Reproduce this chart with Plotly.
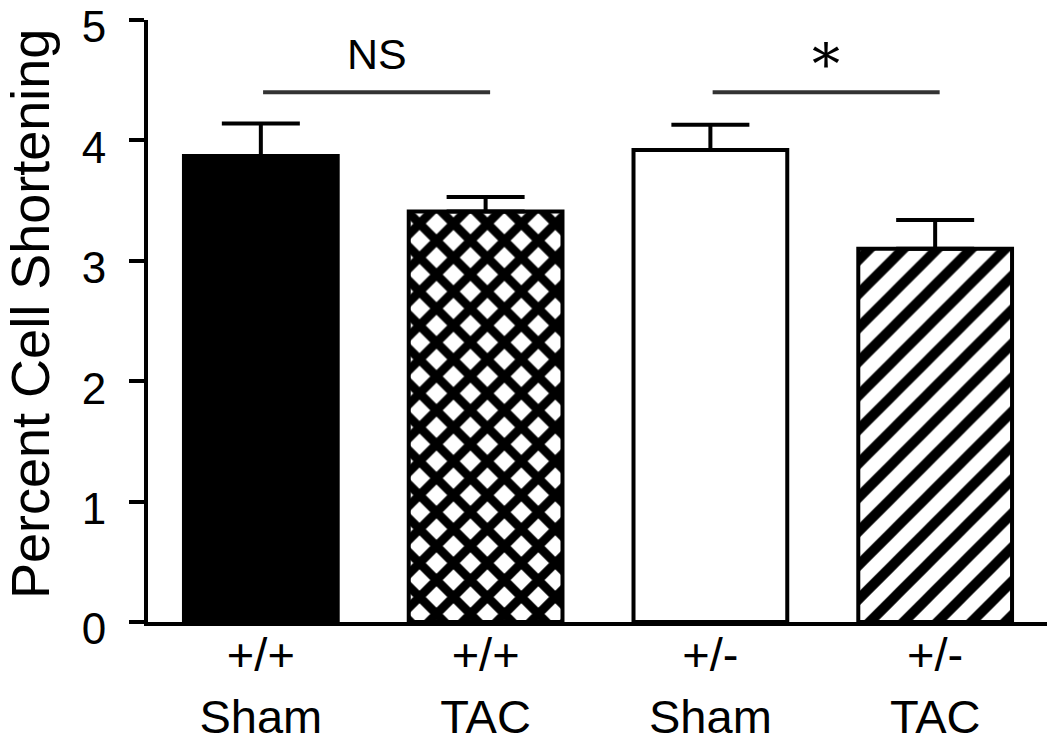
import plotly.graph_objects as go

# data
groups = ["+/+<br>Sham", "+/+<br>TAC", "+/-<br>Sham", "+/-<br>TAC"]
means = [3.87, 3.41, 3.92, 3.10]
sem = [0.27, 0.12, 0.21, 0.24]
fills = ["black", "white", "white", "white"]
patterns = ["", "x", "", "/"]

# significance brackets: (label, first bar, second bar)
comparisons = [("NS", 0, 1), ("*", 2, 3)]
bracket_y = 4.40
label_y = 4.72

FONT = "Liberation Sans"
xpos = list(range(len(groups)))

fig = go.Figure()
for i in xpos:
    pat = None
    if patterns[i]:
        pat = dict(shape=patterns[i], fgcolor="black", fgopacity=1,
                   bgcolor="white", size=24, fillmode="replace",
                   solidity=0.6 if patterns[i] == "x" else 0.42)
    fig.add_trace(go.Bar(
        x=[i], y=[means[i]], width=0.684,
        marker=dict(color=fills[i], line=dict(color="black", width=4),
                    pattern=pat),
        error_y=dict(type="data", array=[sem[i]], arrayminus=[0],
                     symmetric=False, color="black", thickness=4, width=39),
        showlegend=False,
    ))

shapes = []
annotations = []
for text, a, b in comparisons:
    x0, x1 = a + 0.01, b + 0.02
    shapes.append(dict(type="line", xref="x", yref="y", x0=x0, x1=x1,
                       y0=bracket_y, y1=bracket_y,
                       line=dict(color="#333333", width=4)))
    big = text == "*"
    annotations.append(dict(x=(x0 + x1) / 2, y=label_y - (0.09 if big else 0),
                            xref="x", yref="y", text=text, showarrow=False,
                            font=dict(family="DejaVu Serif" if big else FONT,
                                      size=56 if big else 43, color="black")))

# y axis title
annotations.append(dict(x=(30 - 148) / 900, y=(622 - 314) / 602, xref="paper", yref="paper",
                        text="Percent Cell Shortening", textangle=-90,
                        showarrow=False, xanchor="center", yanchor="middle",
                        font=dict(family=FONT, size=54, color="black")))

# the page body adds an 8px margin, so the figure is 8px smaller than the window
fig.update_layout(
    width=1047, height=735,
    margin=dict(l=140, r=7, t=12, b=121, autoexpand=False),
    plot_bgcolor="white", paper_bgcolor="white",
    barmode="overlay",
    font=dict(family=FONT, color="black"),
    shapes=shapes, annotations=annotations,
)
fig.update_xaxes(range=[-0.502, 3.502], tickvals=xpos, ticktext=groups,
                 showline=True, linecolor="black", linewidth=4,
                 ticks="", showgrid=False, zeroline=False, automargin=False,
                 tickfont=dict(size=47, family=FONT), ticklabelstandoff=-11)
fig.update_yaxes(range=[0, 5.0005], tickvals=[0, 1, 2, 3, 4, 5], showline=True,
                 linecolor="black", automargin=False, ticklabeloverflow="allow",
                 linewidth=4, ticks="outside", ticklen=15, tickwidth=4,
                 tickcolor="black", showgrid=False, zeroline=False,
                 tickfont=dict(size=44, family=FONT), ticklabelstandoff=14,
                 ticklabelshift=7)

fig.write_html("out.html")
